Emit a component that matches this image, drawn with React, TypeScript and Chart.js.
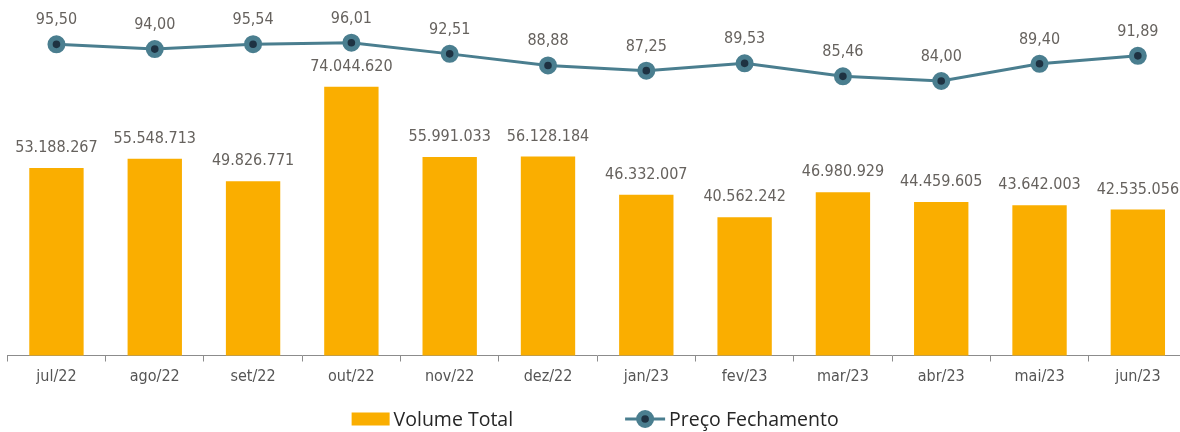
import React, { useEffect, useRef } from "react";
import { Chart, registerables } from "chart.js";

Chart.register(...registerables);

const categories = ["jul/22", "ago/22", "set/22", "out/22", "nov/22", "dez/22", "jan/23", "fev/23", "mar/23", "abr/23", "mai/23", "jun/23"];
const volumeTotal = [53188267, 55548713, 49826771, 74044620, 55991033, 56128184, 46332007, 40562242, 46980929, 44459605, 43642003, 42535056];
const precoFechamento = [95.5, 94.0, 95.54, 96.01, 92.51, 88.88, 87.25, 89.53, 85.46, 84.0, 89.4, 91.89];

const BAR_COLOR = "#FAAE00";
const LINE_COLOR = "#4A7E8F";
const DOT_COLOR = "#1E3242";
const LABEL_COLOR = "#66625E";
const TICK_COLOR = "#555555";
const AXIS_COLOR = "#8C8C8C";
const DIN = '"DejaVu Sans Condensed", "DejaVu Sans", sans-serif';
const LEGEND_FONT = '"Open Sans", "Noto Sans", sans-serif';

const fmtVolume = (v: number) => String(Math.round(v)).replace(/\B(?=(\d{3})+(?!\d))/g, ".");
const fmtPrice = (v: number) => v.toFixed(2).replace(".", ",");

const labelsPlugin = {
  id: "valueLabels",
  afterDatasetsDraw(chart: any) {
    const ctx = chart.ctx;
    ctx.save();
    ctx.font = `16px ${DIN}`;
    ctx.fillStyle = LABEL_COLOR;
    ctx.textAlign = "center";
    ctx.textBaseline = "alphabetic";
    chart.data.datasets.forEach((ds: any, di: number) => {
      const meta = chart.getDatasetMeta(di);
      meta.data.forEach((el: any, i: number) => {
        const v = ds.data[i] as number;
        if (ds.type === "bar") {
          ctx.fillText(fmtVolume(v), el.x, el.y - 16);
        } else {
          ctx.fillText(fmtPrice(v), el.x, el.y - 20);
        }
      });
    });
    ctx.restore();
  },
};

const legendPlugin = {
  id: "customLegend",
  afterDraw(chart: any) {
    const ctx = chart.ctx;
    const ds0 = chart.data.datasets[0];
    const ds1 = chart.data.datasets[1];
    ctx.save();
    ctx.font = `19.5px ${LEGEND_FONT}`;
    ctx.textBaseline = "alphabetic";
    ctx.textAlign = "left";
    const t1 = ds0.label as string;
    const t2 = ds1.label as string;
    const w1 = ctx.measureText(t1).width;
    const w2 = ctx.measureText(t2).width;
    const boxW = 38;
    const lineW = 40;
    const gapIcon = 4;
    const gapItems = 112;
    const total = boxW + gapIcon + w1 + gapItems + lineW + gapIcon + w2;
    const cx = (chart.chartArea.left + chart.chartArea.right) / 2 - 2;
    let x = cx - total / 2;
    const midY = 419;
    const baseY = 426;
    ctx.fillStyle = BAR_COLOR;
    ctx.fillRect(x, midY - 6.5, boxW, 13);
    x += boxW + gapIcon;
    ctx.fillStyle = "#262626";
    ctx.fillText(t1, x, baseY);
    x += w1 + gapItems;
    ctx.strokeStyle = LINE_COLOR;
    ctx.lineWidth = 3;
    ctx.beginPath();
    ctx.moveTo(x, midY);
    ctx.lineTo(x + lineW, midY);
    ctx.stroke();
    ctx.beginPath();
    ctx.arc(x + lineW / 2, midY, 6.4, 0, Math.PI * 2);
    ctx.fillStyle = DOT_COLOR;
    ctx.fill();
    ctx.lineWidth = 5.2;
    ctx.strokeStyle = LINE_COLOR;
    ctx.stroke();
    x += lineW + gapIcon;
    ctx.fillStyle = "#262626";
    ctx.fillText(t2, x, baseY);
    ctx.restore();
  },
};

export default function App() {
  const ref = useRef<HTMLCanvasElement | null>(null);
  useEffect(() => {
    if (!ref.current) return;
    const chart = new Chart(ref.current, {
      type: "bar",
      data: {
        labels: categories,
        datasets: [
          {
            type: "bar",
            label: "Volume Total",
            data: volumeTotal,
            backgroundColor: BAR_COLOR,
            borderWidth: 0,
            categoryPercentage: 1,
            barPercentage: 0.553,
            yAxisID: "y",
            order: 2,
          } as any,
          {
            type: "line",
            label: "Preço Fechamento",
            data: precoFechamento,
            borderColor: LINE_COLOR,
            borderWidth: 3,
            backgroundColor: DOT_COLOR,
            pointBackgroundColor: DOT_COLOR,
            pointBorderColor: LINE_COLOR,
            pointBorderWidth: 5.2,
            pointRadius: 6.4,
            tension: 0,
            fill: false,
            yAxisID: "y1",
            order: 1,
            clip: false,
          } as any,
        ],
      },
      options: {
        responsive: false,
        animation: false,
        devicePixelRatio: 1,
        layout: { autoPadding: false, padding: { left: 7.3, right: 3, top: 0, bottom: 0 } },
        plugins: {
          legend: { display: false },
          tooltip: { enabled: false },
        },
        scales: {
          x: {
            offset: true,
            grid: {
              offset: true,
              drawOnChartArea: false,
              drawTicks: true,
              tickLength: 6,
              color: AXIS_COLOR,
              lineWidth: 1,
            },
            border: { display: true, color: AXIS_COLOR, width: 1 },
            ticks: {
              color: TICK_COLOR,
              font: { family: DIN, size: 16 },
              padding: 6,
              maxRotation: 0,
              autoSkip: false,
            },
            afterFit: (s: any) => {
              s.height = 76.5;
            },
          },
          y: {
            display: false,
            min: 5130000,
            max: 96260000,
          },
          y1: {
            display: false,
            min: -2.07,
            max: 109.4,
          },
        },
      },
      plugins: [labelsPlugin, legendPlugin],
    });
    return () => chart.destroy();
  }, []);
  return (
    <div style={{ position: "absolute", left: 0, top: 0, width: 1180, height: 432, overflow: "hidden", background: "#fff" }}>
      <canvas ref={ref} width={1190} height={432} style={{ display: "block" }} />
    </div>
  );
}
